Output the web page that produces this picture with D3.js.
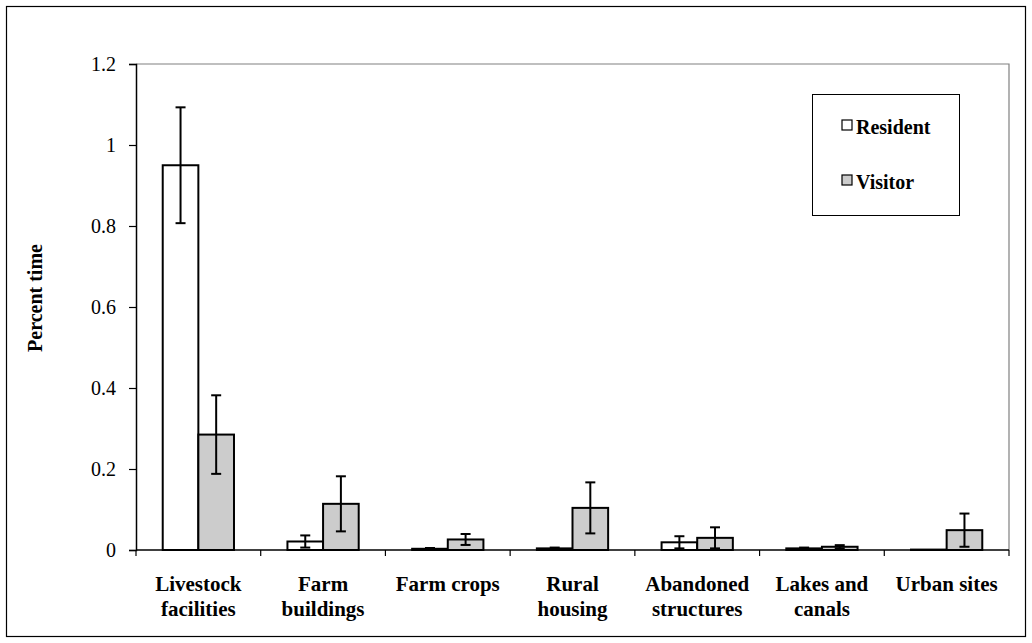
<!DOCTYPE html>
<html>
<head>
<meta charset="utf-8">
<script src="https://cdn.jsdelivr.net/npm/d3@7/dist/d3.min.js"></script>
<style>
  html, body { margin: 0; padding: 0; background: #fff; }
  svg { display: block; }
  text { font-family: "Liberation Serif", "Times New Roman", serif; fill: #000; }
</style>
</head>
<body>
<svg id="chart" width="1032" height="643"></svg>
<script>
// Habitat categories (two-line labels)
const categories = [
  ["Livestock", "facilities"],
  ["Farm", "buildings"],
  ["Farm crops"],
  ["Rural", "housing"],
  ["Abandoned", "structures"],
  ["Lakes and", "canals"],
  ["Urban sites"]
];
const seriesNames = ["Resident", "Visitor"];
const residentMean = [0.95, 0.021, 0.003, 0.004, 0.019, 0.004, 0.001];
const residentErr  = [0.143, 0.015, 0.002, 0.002, 0.015, 0.002, 0.0];
const visitorMean  = [0.285, 0.114, 0.026, 0.104, 0.030, 0.008, 0.049];
const visitorErr   = [0.097, 0.068, 0.0135, 0.063, 0.026, 0.004, 0.041];
const yTicks = [0, 0.2, 0.4, 0.6, 0.8, 1, 1.2];

const svg = d3.select("#chart");
const plot = { left: 136, right: 1009, top: 64, bottom: 550 };

// Outer chart frame
svg.append("rect")
  .attr("x", 6.5).attr("y", 6.5)
  .attr("width", 1019).attr("height", 630)
  .attr("fill", "#fff").attr("stroke", "#000").attr("stroke-width", 1.2);

const catKeys = categories.map(c => c.join(" "));
const x = d3.scaleBand().domain(catKeys).range([plot.left, plot.right]).paddingInner(0).paddingOuter(0);
const y = d3.scaleLinear().domain([0, 1.2]).range([plot.bottom, plot.top]);

// Plot area border (top and right)
svg.append("path")
  .attr("d", `M${plot.left},${plot.top}H${plot.right}V${plot.bottom}`)
  .attr("fill", "none").attr("stroke", "#808080").attr("stroke-width", 1.2);

// Bars: gap width 150% of bar width
const bw = x.bandwidth() / 3.5;
const series = [
  { name: "Resident", mean: residentMean, err: residentErr, fill: "#ffffff" },
  { name: "Visitor",  mean: visitorMean,  err: visitorErr,  fill: "#cccccc" }
];

series.forEach((s, si) => {
  const g = svg.append("g");
  const rows = catKeys.map((k, i) => ({ k, v: s.mean[i], e: s.err[i] }));
  g.selectAll("rect").data(rows).join("rect")
    .attr("x", d => x(d.k) + bw * 0.75 + si * bw)
    .attr("y", d => y(d.v))
    .attr("width", bw)
    .attr("height", d => y(0) - y(d.v))
    .attr("fill", s.fill)
    .attr("stroke", "#000")
    .attr("stroke-width", 2);

  // Error bars
  const eg = svg.append("g").attr("stroke", "#000").attr("stroke-width", 2);
  rows.forEach(d => {
    if (d.e <= 0) return;
    const cx = x(d.k) + bw * 0.75 + si * bw + bw / 2;
    const y1 = y(d.v + d.e), y2 = y(Math.max(0, d.v - d.e));
    eg.append("line").attr("x1", cx).attr("x2", cx).attr("y1", y1).attr("y2", y2);
    eg.append("line").attr("x1", cx - 5).attr("x2", cx + 5).attr("y1", y1).attr("y2", y1);
    eg.append("line").attr("x1", cx - 5).attr("x2", cx + 5).attr("y1", y2).attr("y2", y2);
  });
});

// Y axis
const yAxis = svg.append("g")
  .attr("transform", `translate(${plot.left},0)`)
  .call(d3.axisLeft(y).tickValues(yTicks).tickFormat(d => d3.format("")(d)).tickSize(7).tickPadding(13));
yAxis.select(".domain").attr("stroke", "#000").attr("stroke-width", 1.5);
yAxis.selectAll(".tick line").attr("stroke", "#000").attr("stroke-width", 1.2);
yAxis.selectAll(".tick text")
  .style("font-family", "'Liberation Serif', serif")
  .style("font-size", "20px");

// X axis baseline with ticks at category boundaries
const xg = svg.append("g");
xg.append("line")
  .attr("x1", plot.left).attr("x2", plot.right)
  .attr("y1", y(0)).attr("y2", y(0))
  .attr("stroke", "#000").attr("stroke-width", 1.5);
const boundaries = catKeys.map(k => x(k)).concat([plot.right]);
xg.selectAll("line.tk").data(boundaries).join("line")
  .attr("class", "tk")
  .attr("x1", d => d).attr("x2", d => d)
  .attr("y1", y(0)).attr("y2", y(0) + 6)
  .attr("stroke", "#000").attr("stroke-width", 1.2);

// Category labels
categories.forEach((lines, i) => {
  const cx = x(catKeys[i]) + x.bandwidth() / 2;
  const t = svg.append("text")
    .attr("x", cx).attr("y", 591)
    .attr("text-anchor", "middle")
    .attr("font-weight", "bold")
    .style("font-size", "21px");
  lines.forEach((ln, j) => {
    t.append("tspan").attr("x", cx).attr("dy", j === 0 ? 0 : 25).text(ln);
  });
});

// Y axis title
svg.append("text")
  .attr("transform", `translate(42,298) rotate(-90)`)
  .attr("text-anchor", "middle")
  .attr("font-weight", "bold")
  .style("font-size", "20px")
  .text("Percent time");

// Legend
const lg = svg.append("g");
lg.append("rect")
  .attr("x", 812.5).attr("y", 94.5).attr("width", 147).attr("height", 121)
  .attr("fill", "#fff").attr("stroke", "#000").attr("stroke-width", 1);
const legendRows = [
  { name: seriesNames[0], fill: "#ffffff", y: 128 },
  { name: seriesNames[1], fill: "#cccccc", y: 183 }
];
legendRows.forEach(r => {
  lg.append("rect")
    .attr("x", 842).attr("y", r.y - 8).attr("width", 10).attr("height", 10)
    .attr("fill", r.fill).attr("stroke", "#000").attr("stroke-width", 1.2);
  lg.append("text")
    .attr("x", 856).attr("y", r.y + 6)
    .attr("font-weight", "bold")
    .style("font-size", "20px")
    .text(r.name);
});
</script>
</body>
</html>
